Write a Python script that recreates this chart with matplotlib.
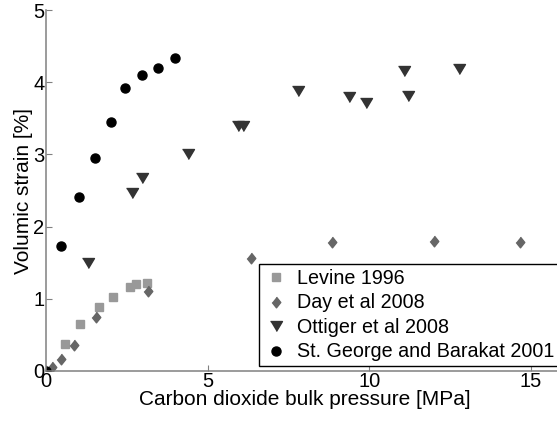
import matplotlib
matplotlib.use("Agg")
import matplotlib.pyplot as plt

plt.rcParams['font.family'] = ['Liberation Sans', 'DejaVu Sans']

# Levine 1996
levine_p = [0.59, 1.06, 1.63, 2.07, 2.60, 2.79, 3.12]
levine_s = [0.38, 0.65, 0.89, 1.02, 1.16, 1.20, 1.22]

# Day et al 2008
day_p = [0.18, 0.46, 0.87, 1.54, 3.17, 6.34, 8.86, 12.01, 14.67]
day_s = [0.06, 0.16, 0.36, 0.75, 1.11, 1.56, 1.78, 1.80, 1.78]

# Ottiger et al 2008
ott_p = [1.31, 2.67, 2.97, 4.41, 5.94, 6.10, 7.79, 9.38, 9.91, 11.09, 11.19, 12.78]
ott_s = [1.49, 2.47, 2.68, 3.00, 3.40, 3.40, 3.88, 3.80, 3.71, 4.16, 3.81, 4.18]

# St. George and Barakat 2001
sg_p = [0.0, 0.47, 1.01, 1.51, 2.01, 2.46, 2.97, 3.47, 4.00]
sg_s = [0.0, 1.73, 2.41, 2.95, 3.45, 3.92, 4.10, 4.20, 4.34]

diamond = [(0, 0.5), (0.4, 0), (0, -0.5), (-0.4, 0)]
tri_down = [(-0.6, 0.5), (0.6, 0.5), (0, -0.5)]

fig = plt.figure(figsize=(5.57, 4.26), dpi=100)
ax = fig.add_axes([46 / 557, 55 / 426, 517 / 557, 361 / 426])

ax.plot(levine_p, levine_s, ls='none', marker='s', ms=5.6, color='#999999',
        mec='#999999', label='Levine 1996')
ax.plot(day_p, day_s, ls='none', marker=diamond, ms=7.7, color='#666666',
        mec='#666666', label='Day et al 2008')
ax.plot(ott_p, ott_s, ls='none', marker=tri_down, ms=8.6, color='#333333',
        mec='#333333', label='Ottiger et al 2008')
ax.plot(sg_p, sg_s, ls='none', marker='o', ms=6.5, color='black',
        mec='black', label='St. George and Barakat 2001')

ax.set_xlim(0, 16)
ax.set_ylim(0, 5)
ax.set_xticks([0, 5, 10, 15])
ax.set_yticks([0, 1, 2, 3, 4, 5])

for s in ['top', 'right']:
    ax.spines[s].set_visible(False)
for s in ['left', 'bottom']:
    ax.spines[s].set_color('#808080')
    ax.spines[s].set_linewidth(1.1)
ax.tick_params(direction='in', length=4, width=0.8, color='#808080',
               labelcolor='black', labelsize=14.5, pad=1)

ax.set_xlabel('Carbon dioxide bulk pressure [MPa]', fontsize=15, labelpad=-1)
ax.set_ylabel('Volumic strain [%]', fontsize=15, labelpad=0)

leg = ax.legend(loc='upper left', bbox_to_anchor=(259 / 557, 1 - 264 / 426),
                bbox_transform=fig.transFigure, fontsize=14.2, frameon=True,
                fancybox=False, edgecolor='black', borderpad=0.25,
                labelspacing=0.28, handletextpad=0.5, handlelength=1.2,
                borderaxespad=0)
leg.get_frame().set_linewidth(1.0)
leg.get_frame().set_alpha(1)

fig.savefig('out.png', dpi=100)
